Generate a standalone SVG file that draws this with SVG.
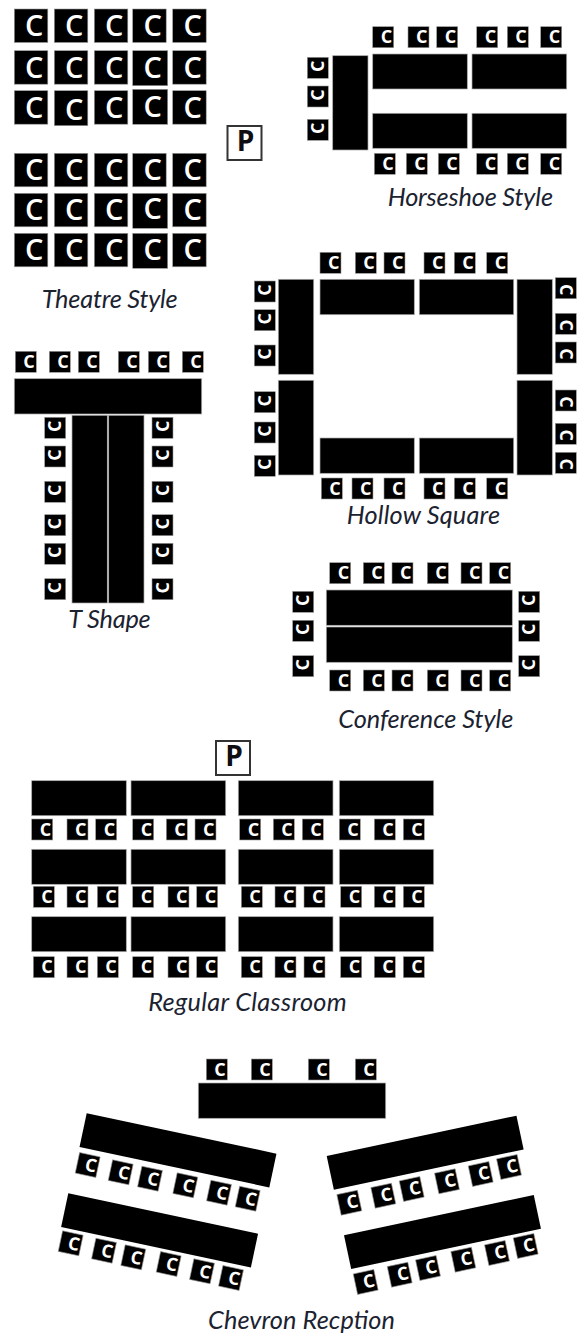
<svg xmlns="http://www.w3.org/2000/svg" width="581" height="1333" viewBox="0 0 581 1333">
<style>
text{font-family:"Open Sans","Liberation Sans",sans-serif}
.t{fill:#000;stroke:#aaa;stroke-width:.7}
.s rect,.b rect{fill:#000;stroke:#999;stroke-width:.6}
.s rect{width:21px;height:21px}
.b rect{width:33.5px;height:33.5px}
.s text{font-size:18px;font-weight:700;fill:#fff;text-anchor:middle}
.b text{font-size:29px;font-weight:600;fill:#fff;text-anchor:middle}
.l{font-family:Lato,"Open Sans",sans-serif;font-style:italic;font-size:25.3px;fill:#1b2230}
.p rect{fill:#fff;stroke:#333;stroke-width:2}
.p text{font-size:28px;font-weight:700;fill:#0d0d12;text-anchor:middle}
</style>
<g id="theatre">
<g class="b" transform="translate(14.3 9)"><rect/><text x="20" y="27">C</text></g><g class="b" transform="translate(54.3 9)"><rect/><text x="20" y="27">C</text></g><g class="b" transform="translate(94.3 9)"><rect/><text x="20" y="27">C</text></g><g class="b" transform="translate(132.7 9)"><rect/><text x="20" y="27">C</text></g><g class="b" transform="translate(172.7 9)"><rect/><text x="20" y="27">C</text></g>
<g class="b" transform="translate(14.3 50.7)"><rect/><text x="20" y="27">C</text></g><g class="b" transform="translate(54.3 50.7)"><rect/><text x="20" y="27">C</text></g><g class="b" transform="translate(94.3 50.7)"><rect/><text x="20" y="27">C</text></g><g class="b" transform="translate(132.7 50.7)"><rect style="width:35px;height:35px"/><text x="20" y="27">C</text></g><g class="b" transform="translate(172.7 50.7)"><rect/><text x="20" y="27">C</text></g>
<g class="b" transform="translate(14.3 90.7)"><rect/><text x="20" y="27">C</text></g><g class="b" transform="translate(54.3 90.7)"><rect style="width:33.5px;height:35px"/><text x="20" y="29">C</text></g><g class="b" transform="translate(94.3 90.7)"><rect/><text x="20" y="27">C</text></g><g class="b" transform="translate(132.7 89.3)"><rect style="width:35px;height:35px"/><text x="20" y="28">C</text></g><g class="b" transform="translate(172.7 90.7)"><rect/><text x="20" y="27">C</text></g>
<g class="b" transform="translate(14.3 153.3)"><rect/><text x="20" y="27">C</text></g><g class="b" transform="translate(54.3 153.3)"><rect/><text x="20" y="27">C</text></g><g class="b" transform="translate(94.3 153.3)"><rect/><text x="20" y="27">C</text></g><g class="b" transform="translate(132.7 153.3)"><rect/><text x="20" y="27">C</text></g><g class="b" transform="translate(172.7 153.3)"><rect/><text x="20" y="27">C</text></g>
<g class="b" transform="translate(14.3 193.3)"><rect/><text x="20" y="27">C</text></g><g class="b" transform="translate(54.3 193.3)"><rect/><text x="20" y="27">C</text></g><g class="b" transform="translate(94.3 193.3)"><rect/><text x="20" y="27">C</text></g><g class="b" transform="translate(132.7 193.3)"><rect style="width:35px;height:35px"/><text x="20" y="26">C</text></g><g class="b" transform="translate(172.7 193.3)"><rect/><text x="20" y="27">C</text></g>
<g class="b" transform="translate(14.3 233.3)"><rect/><text x="20" y="27">C</text></g><g class="b" transform="translate(54.3 233.3)"><rect/><text x="20" y="27">C</text></g><g class="b" transform="translate(94.3 233.3)"><rect/><text x="20" y="27">C</text></g><g class="b" transform="translate(132.7 233.3)"><rect style="width:35px;height:35px"/><text x="20" y="27">C</text></g><g class="b" transform="translate(172.7 233.3)"><rect/><text x="20" y="27">C</text></g>
<text class="l" x="41.7" y="308" textLength="136">Theatre Style</text>
</g>
<g id="podium-1" class="p"><rect x="227.5" y="126" width="34" height="34"/><text x="245.5" y="150.7">P</text></g>
<g id="horseshoe">
<rect class="t" x="372.7" y="54" width="94.6" height="35"/><rect class="t" x="472" y="54" width="94.7" height="35"/><rect class="t" x="372.7" y="113.3" width="94.6" height="35"/><rect class="t" x="472" y="113.3" width="94.7" height="35"/><rect class="t" x="332.7" y="55.7" width="35.3" height="94.3"/>
<g class="s" transform="translate(372.7 26.7)"><rect/><text x="13.7" y="16.5">C</text></g><g class="s" transform="translate(408 26.7)"><rect/><text x="13.7" y="16.5">C</text></g><g class="s" transform="translate(436.7 26.7)"><rect/><text x="13.7" y="16.5">C</text></g><g class="s" transform="translate(476.7 26.7)"><rect/><text x="13.7" y="16.5">C</text></g><g class="s" transform="translate(507.3 26.7)"><rect/><text x="13.7" y="16.5">C</text></g><g class="s" transform="translate(540.7 26.7)"><rect/><text x="13.7" y="16.5">C</text></g>
<g class="s" transform="translate(374.3 153.3)"><rect/><text x="13.7" y="16.5">C</text></g><g class="s" transform="translate(406.3 153.3)"><rect/><text x="13.7" y="16.5">C</text></g><g class="s" transform="translate(438.3 153.3)"><rect/><text x="13.7" y="16.5">C</text></g><g class="s" transform="translate(476.7 153.3)"><rect/><text x="13.7" y="16.5">C</text></g><g class="s" transform="translate(507.3 153.3)"><rect/><text x="13.7" y="16.5">C</text></g><g class="s" transform="translate(540.7 153.3)"><rect/><text x="13.7" y="16.5">C</text></g>
<g class="s" transform="translate(307.3 57.3) rotate(-90 10.5 10.5)"><rect/><text x="12" y="16.5">C</text></g><g class="s" transform="translate(307.3 86) rotate(-90 10.5 10.5)"><rect/><text x="12" y="16.5">C</text></g><g class="s" transform="translate(307.3 119.3) rotate(-90 10.5 10.5)"><rect/><text x="12" y="16.5">C</text></g>
<text class="l" x="387.7" y="205.7" textLength="165.3">Horseshoe Style</text>
</g>
<g id="hollow-square">
<rect class="t" x="320" y="279.3" width="94.3" height="35.4"/><rect class="t" x="419.3" y="279.3" width="94.4" height="35.4"/><rect class="t" x="320" y="438" width="94.3" height="35.3"/><rect class="t" x="419.3" y="438" width="94.4" height="35.3"/><rect class="t" x="278.3" y="279.3" width="35.4" height="95"/><rect class="t" x="278.3" y="380.3" width="35.4" height="94.7"/><rect class="t" x="517" y="279.3" width="35.3" height="95"/><rect class="t" x="517" y="380.3" width="35.3" height="94.7"/>
<g class="s" transform="translate(320 252.3)"><rect/><text x="13.7" y="16.5">C</text></g><g class="s" transform="translate(355.3 252.3)"><rect/><text x="13.7" y="16.5">C</text></g><g class="s" transform="translate(384 252.3)"><rect/><text x="13.7" y="16.5">C</text></g><g class="s" transform="translate(424 252.3)"><rect/><text x="13.7" y="16.5">C</text></g><g class="s" transform="translate(454.3 252.3)"><rect/><text x="13.7" y="16.5">C</text></g><g class="s" transform="translate(486.7 252.3)"><rect/><text x="13.7" y="16.5">C</text></g>
<g class="s" transform="translate(321.3 478)"><rect/><text x="13.7" y="16.5">C</text></g><g class="s" transform="translate(352 478)"><rect/><text x="13.7" y="16.5">C</text></g><g class="s" transform="translate(384 478)"><rect/><text x="13.7" y="16.5">C</text></g><g class="s" transform="translate(424 478)"><rect/><text x="13.7" y="16.5">C</text></g><g class="s" transform="translate(454.3 478)"><rect/><text x="13.7" y="16.5">C</text></g><g class="s" transform="translate(486.7 478)"><rect/><text x="13.7" y="16.5">C</text></g>
<g class="s" transform="translate(254.3 281) rotate(-90 10.5 10.5)"><rect/><text x="12" y="16.5">C</text></g><g class="s" transform="translate(254.3 309.7) rotate(-90 10.5 10.5)"><rect/><text x="12" y="16.5">C</text></g><g class="s" transform="translate(254.3 345) rotate(-90 10.5 10.5)"><rect/><text x="12" y="16.5">C</text></g><g class="s" transform="translate(254.3 391.7) rotate(-90 10.5 10.5)"><rect/><text x="12" y="16.5">C</text></g><g class="s" transform="translate(254.3 422) rotate(-90 10.5 10.5)"><rect/><text x="12" y="16.5">C</text></g><g class="s" transform="translate(254.3 455.3) rotate(-90 10.5 10.5)"><rect/><text x="12" y="16.5">C</text></g>
<g class="s" transform="translate(555.3 277.7) rotate(90 10.5 10.5)"><rect/><text x="12" y="16.5">C</text></g><g class="s" transform="translate(555.3 313.3) rotate(90 10.5 10.5)"><rect/><text x="12" y="16.5">C</text></g><g class="s" transform="translate(555.3 342) rotate(90 10.5 10.5)"><rect/><text x="12" y="16.5">C</text></g><g class="s" transform="translate(555.3 390) rotate(90 10.5 10.5)"><rect/><text x="12" y="16.5">C</text></g><g class="s" transform="translate(555.3 423.3) rotate(90 10.5 10.5)"><rect/><text x="12" y="16.5">C</text></g><g class="s" transform="translate(555.3 452.3) rotate(90 10.5 10.5)"><rect/><text x="12" y="16.5">C</text></g>
<text class="l" x="346.7" y="524" textLength="153.3">Hollow Square</text>
</g>
<g id="t-shape">
<rect class="t" x="14.3" y="378.7" width="187.4" height="35.3"/><rect class="t" x="72" y="415.3" width="35.3" height="187.7"/><rect class="t" x="108.7" y="415.3" width="35.3" height="187.7"/>
<g class="s" transform="translate(15.3 351.3)"><rect/><text x="13.7" y="16.5">C</text></g><g class="s" transform="translate(49.3 351.3)"><rect/><text x="13.7" y="16.5">C</text></g><g class="s" transform="translate(78.3 351.3)"><rect/><text x="13.7" y="16.5">C</text></g><g class="s" transform="translate(118.3 351.3)"><rect/><text x="13.7" y="16.5">C</text></g><g class="s" transform="translate(148.3 351.3)"><rect/><text x="13.7" y="16.5">C</text></g><g class="s" transform="translate(182.3 351.3)"><rect/><text x="13.7" y="16.5">C</text></g>
<g class="s" transform="translate(44.7 417.3) rotate(-90 10.5 10.5)"><rect/><text x="12" y="16.5">C</text></g><g class="s" transform="translate(44.7 446) rotate(-90 10.5 10.5)"><rect/><text x="12" y="16.5">C</text></g><g class="s" transform="translate(44.7 481.3) rotate(-90 10.5 10.5)"><rect/><text x="12" y="16.5">C</text></g><g class="s" transform="translate(44.7 514.7) rotate(-90 10.5 10.5)"><rect/><text x="12" y="16.5">C</text></g><g class="s" transform="translate(44.7 543.3) rotate(-90 10.5 10.5)"><rect/><text x="12" y="16.5">C</text></g><g class="s" transform="translate(44.7 578.7) rotate(-90 10.5 10.5)"><rect/><text x="12" y="16.5">C</text></g>
<g class="s" transform="translate(152 417.3) rotate(-90 10.5 10.5)"><rect/><text x="12" y="16.5">C</text></g><g class="s" transform="translate(152 446) rotate(-90 10.5 10.5)"><rect/><text x="12" y="16.5">C</text></g><g class="s" transform="translate(152 481.3) rotate(-90 10.5 10.5)"><rect/><text x="12" y="16.5">C</text></g><g class="s" transform="translate(152 514.7) rotate(-90 10.5 10.5)"><rect/><text x="12" y="16.5">C</text></g><g class="s" transform="translate(152 543.3) rotate(-90 10.5 10.5)"><rect/><text x="12" y="16.5">C</text></g><g class="s" transform="translate(152 578.7) rotate(-90 10.5 10.5)"><rect/><text x="12" y="16.5">C</text></g>
<text class="l" x="68.3" y="628" textLength="82.4">T Shape</text>
</g>
<g id="conference">
<rect class="t" x="326.3" y="590" width="186" height="35.3"/><rect class="t" x="326.3" y="627" width="186" height="35.3"/>
<g class="s" transform="translate(329.7 562.7)"><rect/><text x="13.7" y="16.5">C</text></g><g class="s" transform="translate(363.3 562.7)"><rect/><text x="13.7" y="16.5">C</text></g><g class="s" transform="translate(392 562.7)"><rect/><text x="13.7" y="16.5">C</text></g><g class="s" transform="translate(427.3 562.7)"><rect/><text x="13.7" y="16.5">C</text></g><g class="s" transform="translate(461 562.7)"><rect/><text x="13.7" y="16.5">C</text></g><g class="s" transform="translate(489.7 562.7)"><rect/><text x="13.7" y="16.5">C</text></g>
<g class="s" transform="translate(329.7 670)"><rect/><text x="13.7" y="16.5">C</text></g><g class="s" transform="translate(363.3 670)"><rect/><text x="13.7" y="16.5">C</text></g><g class="s" transform="translate(392 670)"><rect/><text x="13.7" y="16.5">C</text></g><g class="s" transform="translate(427.3 670)"><rect/><text x="13.7" y="16.5">C</text></g><g class="s" transform="translate(461 670)"><rect/><text x="13.7" y="16.5">C</text></g><g class="s" transform="translate(489.7 670)"><rect/><text x="13.7" y="16.5">C</text></g>
<g class="s" transform="translate(292.7 591.3) rotate(-90 10.5 10.5)"><rect/><text x="12" y="16.5">C</text></g><g class="s" transform="translate(292.7 620.3) rotate(-90 10.5 10.5)"><rect/><text x="12" y="16.5">C</text></g><g class="s" transform="translate(292.7 655.7) rotate(-90 10.5 10.5)"><rect/><text x="12" y="16.5">C</text></g>
<g class="s" transform="translate(518.7 591.3) rotate(-90 10.5 10.5)"><rect/><text x="12" y="16.5">C</text></g><g class="s" transform="translate(518.7 620.3) rotate(-90 10.5 10.5)"><rect/><text x="12" y="16.5">C</text></g><g class="s" transform="translate(518.7 655.7) rotate(-90 10.5 10.5)"><rect/><text x="12" y="16.5">C</text></g>
<text class="l" x="338.3" y="728" textLength="175">Conference Style</text>
</g>
<g id="podium-2" class="p"><rect x="216" y="741" width="34" height="34"/><text x="234" y="766">P</text></g>
<g id="classroom">
<rect class="t" x="31.7" y="780.7" width="94.6" height="35"/><rect class="t" x="131" y="780.7" width="94.7" height="35"/><rect class="t" x="238.3" y="780.7" width="94.7" height="35"/><rect class="t" x="339.3" y="780.7" width="94.4" height="35"/>
<rect class="t" x="31.7" y="849.3" width="94.6" height="35"/><rect class="t" x="131" y="849.3" width="94.7" height="35"/><rect class="t" x="238.3" y="849.3" width="94.7" height="35"/><rect class="t" x="339.3" y="849.3" width="94.4" height="35"/>
<rect class="t" x="31.7" y="916.7" width="94.6" height="35"/><rect class="t" x="131" y="916.7" width="94.7" height="35"/><rect class="t" x="238.3" y="916.7" width="94.7" height="35"/><rect class="t" x="339.3" y="916.7" width="94.4" height="35"/>
<g class="s" transform="translate(31.7 819)"><rect/><text x="13.7" y="16.5">C</text></g><g class="s" transform="translate(67 819)"><rect/><text x="13.7" y="16.5">C</text></g><g class="s" transform="translate(95.7 819)"><rect/><text x="13.7" y="16.5">C</text></g><g class="s" transform="translate(132.7 819)"><rect/><text x="13.7" y="16.5">C</text></g><g class="s" transform="translate(166.3 819)"><rect/><text x="13.7" y="16.5">C</text></g><g class="s" transform="translate(195 819)"><rect/><text x="13.7" y="16.5">C</text></g><g class="s" transform="translate(239.7 819)"><rect/><text x="13.7" y="16.5">C</text></g><g class="s" transform="translate(273.3 819)"><rect/><text x="13.7" y="16.5">C</text></g><g class="s" transform="translate(302.3 819)"><rect/><text x="13.7" y="16.5">C</text></g><g class="s" transform="translate(339.3 819)"><rect/><text x="13.7" y="16.5">C</text></g><g class="s" transform="translate(374.3 819)"><rect/><text x="13.7" y="16.5">C</text></g><g class="s" transform="translate(403.3 819)"><rect/><text x="13.7" y="16.5">C</text></g>
<g class="s" transform="translate(33.3 886.3)"><rect/><text x="13.7" y="16.5">C</text></g><g class="s" transform="translate(67 886.3)"><rect/><text x="13.7" y="16.5">C</text></g><g class="s" transform="translate(97.3 886.3)"><rect/><text x="13.7" y="16.5">C</text></g><g class="s" transform="translate(132.7 886.3)"><rect/><text x="13.7" y="16.5">C</text></g><g class="s" transform="translate(168 886.3)"><rect/><text x="13.7" y="16.5">C</text></g><g class="s" transform="translate(196.7 886.3)"><rect/><text x="13.7" y="16.5">C</text></g><g class="s" transform="translate(241.3 886.3)"><rect/><text x="13.7" y="16.5">C</text></g><g class="s" transform="translate(275 886.3)"><rect/><text x="13.7" y="16.5">C</text></g><g class="s" transform="translate(304 886.3)"><rect/><text x="13.7" y="16.5">C</text></g><g class="s" transform="translate(340.7 886.3)"><rect/><text x="13.7" y="16.5">C</text></g><g class="s" transform="translate(374.3 886.3)"><rect/><text x="13.7" y="16.5">C</text></g><g class="s" transform="translate(403.3 886.3)"><rect/><text x="13.7" y="16.5">C</text></g>
<g class="s" transform="translate(33.3 956.7)"><rect/><text x="13.7" y="16.5">C</text></g><g class="s" transform="translate(67 956.7)"><rect/><text x="13.7" y="16.5">C</text></g><g class="s" transform="translate(97.3 956.7)"><rect/><text x="13.7" y="16.5">C</text></g><g class="s" transform="translate(132.7 956.7)"><rect/><text x="13.7" y="16.5">C</text></g><g class="s" transform="translate(168 956.7)"><rect/><text x="13.7" y="16.5">C</text></g><g class="s" transform="translate(196.7 956.7)"><rect/><text x="13.7" y="16.5">C</text></g><g class="s" transform="translate(241.3 956.7)"><rect/><text x="13.7" y="16.5">C</text></g><g class="s" transform="translate(275 956.7)"><rect/><text x="13.7" y="16.5">C</text></g><g class="s" transform="translate(304 956.7)"><rect/><text x="13.7" y="16.5">C</text></g><g class="s" transform="translate(340.7 956.7)"><rect/><text x="13.7" y="16.5">C</text></g><g class="s" transform="translate(374.3 956.7)"><rect/><text x="13.7" y="16.5">C</text></g><g class="s" transform="translate(403.3 956.7)"><rect/><text x="13.7" y="16.5">C</text></g>
<text class="l" x="148.3" y="1010.7" textLength="198.4">Regular Classroom</text>
</g>
<g id="chevron">
<rect class="t" x="198.3" y="1083" width="187.4" height="35.3"/>
<g class="s" transform="translate(206.3 1059)"><rect/><text x="13.7" y="16.5">C</text></g><g class="s" transform="translate(251.3 1059)"><rect/><text x="13.7" y="16.5">C</text></g><g class="s" transform="translate(308.3 1059)"><rect/><text x="13.7" y="16.5">C</text></g><g class="s" transform="translate(355.3 1059)"><rect/><text x="13.7" y="16.5">C</text></g>
<rect x="0" y="0" width="194" height="34.5" transform="translate(86.7 1113.3) rotate(12)"/><rect x="0" y="0" width="194" height="34.5" transform="translate(68.3 1193.3) rotate(12)"/>
<rect x="0" y="0" width="194" height="34.5" transform="translate(326.7 1156) rotate(-12)"/><rect x="0" y="0" width="194" height="34.5" transform="translate(344 1235.3) rotate(-12)"/>
<g class="s" transform="translate(77.2 1154.5) rotate(12 10.5 10.5)"><rect/><text x="13.7" y="16.5">C</text></g><g class="s" transform="translate(110.2 1161.8) rotate(12 10.5 10.5)"><rect/><text x="13.7" y="16.5">C</text></g><g class="s" transform="translate(139.5 1168.2) rotate(12 10.5 10.5)"><rect/><text x="13.7" y="16.5">C</text></g><g class="s" transform="translate(174.8 1174.8) rotate(12 10.5 10.5)"><rect/><text x="13.7" y="16.5">C</text></g><g class="s" transform="translate(208.5 1182.2) rotate(12 10.5 10.5)"><rect/><text x="13.7" y="16.5">C</text></g><g class="s" transform="translate(237.2 1188.2) rotate(12 10.5 10.5)"><rect/><text x="13.7" y="16.5">C</text></g>
<g class="s" transform="translate(60.2 1232.8) rotate(12 10.5 10.5)"><rect/><text x="13.7" y="16.5">C</text></g><g class="s" transform="translate(93.5 1240.2) rotate(12 10.5 10.5)"><rect/><text x="13.7" y="16.5">C</text></g><g class="s" transform="translate(122.8 1246.8) rotate(12 10.5 10.5)"><rect/><text x="13.7" y="16.5">C</text></g><g class="s" transform="translate(158.2 1253.5) rotate(12 10.5 10.5)"><rect/><text x="13.7" y="16.5">C</text></g><g class="s" transform="translate(191.5 1260.8) rotate(12 10.5 10.5)"><rect/><text x="13.7" y="16.5">C</text></g><g class="s" transform="translate(220.5 1267.5) rotate(12 10.5 10.5)"><rect/><text x="13.7" y="16.5">C</text></g>
<g class="s" transform="translate(338.8 1192.2) rotate(-12 10.5 10.5)"><rect/><text x="13.7" y="16.5">C</text></g><g class="s" transform="translate(372.8 1185.2) rotate(-12 10.5 10.5)"><rect/><text x="13.7" y="16.5">C</text></g><g class="s" transform="translate(401.2 1178.5) rotate(-12 10.5 10.5)"><rect/><text x="13.7" y="16.5">C</text></g><g class="s" transform="translate(436.5 1170.8) rotate(-12 10.5 10.5)"><rect/><text x="13.7" y="16.5">C</text></g><g class="s" transform="translate(470.2 1163.5) rotate(-12 10.5 10.5)"><rect/><text x="13.7" y="16.5">C</text></g><g class="s" transform="translate(498.5 1156.5) rotate(-12 10.5 10.5)"><rect/><text x="13.7" y="16.5">C</text></g>
<g class="s" transform="translate(355.2 1271.5) rotate(-12 10.5 10.5)"><rect/><text x="13.7" y="16.5">C</text></g><g class="s" transform="translate(389.2 1264.2) rotate(-12 10.5 10.5)"><rect/><text x="13.7" y="16.5">C</text></g><g class="s" transform="translate(417.5 1257.5) rotate(-12 10.5 10.5)"><rect/><text x="13.7" y="16.5">C</text></g><g class="s" transform="translate(452.8 1249.2) rotate(-12 10.5 10.5)"><rect/><text x="13.7" y="16.5">C</text></g><g class="s" transform="translate(486.5 1242.5) rotate(-12 10.5 10.5)"><rect/><text x="13.7" y="16.5">C</text></g><g class="s" transform="translate(515.2 1235.5) rotate(-12 10.5 10.5)"><rect/><text x="13.7" y="16.5">C</text></g>
<text class="l" x="208" y="1328.5" textLength="187">Chevron Recption</text>
</g>
</svg>
